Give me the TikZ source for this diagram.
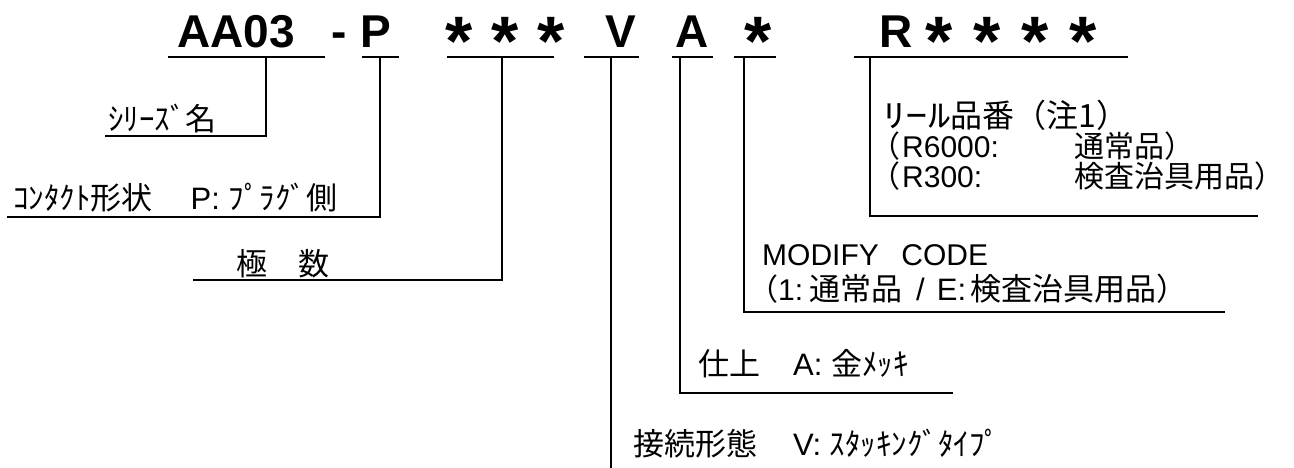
\documentclass[tikz,border=0pt]{standalone}
\usepackage{fontspec}
\setmainfont{Liberation Sans}
\newfontfamily\jpfont{Noto Sans CJK JP}
\newcommand{\jp}[1]{{\jpfont #1}}
\newcommand{\rcol}[1]{\makebox[172pt][l]{#1}}
\usetikzlibrary{positioning}

\tikzset{
  codetext/.style={inner sep=0pt, anchor=base west, font=\fontsize{46}{46}\selectfont\bfseries},
  codestar/.style={inner sep=0pt, anchor=base west, font=\fontsize{70}{70}\selectfont\bfseries},
  tagtext/.style={inner sep=0pt, anchor=base west, font=\fontsize{30}{30}\selectfont},
  tagwide/.style={tagtext, font=\fontsize{31}{31}\selectfont},
  leader/.style={line width=2pt},
}

\begin{document}
\begin{tikzpicture}[x=1pt, y=-1pt]
    \useasboundingbox[fill=white] (0,0) rectangle (1294,468);

    % part number
    \node[codetext] (c-series) at (177,48) {AA03};
    \node[codetext] (c-dash)   at (331,48) {-};
    \node[codetext] (c-plug)   at (360,48) {P};
    \node[codestar] (c-poles)  at (445,66) {*\hspace{19pt}*\hspace{19pt}*};
    \node[codetext] (c-stack)  at (605,48) {V};
    \node[codetext] (c-gold)   at (675,48) {A};
    \node[codestar] (c-modify) at (744,66) {*};
    \node[codetext] (c-reel)   at (879,48) {R};
    \node[codestar] (c-reelno) at (925,66) {*\hspace{21pt}*\hspace{21pt}*\hspace{21pt}*};

    % junctions under the code
    \coordinate (j-series) at (266,57);
    \coordinate (j-plug)   at (380,57);
    \coordinate (j-poles)  at (502,57);
    \coordinate (j-stack)  at (611,57);
    \coordinate (j-gold)   at (680,57);
    \coordinate (j-modify) at (744,57);
    \coordinate (j-reel)   at (870,57);

    % underlines
    \draw[leader] (168,57) -- (325,57);
    \draw[leader] (362,57) -- (399,57);
    \draw[leader] (447,57) -- (554,57);
    \draw[leader] (584,57) -- (639,57);
    \draw[leader] (672,57) -- (713,57);
    \draw[leader] (734,57) -- (776,57);
    \draw[leader] (854,57) -- (1128,57);

    % ends of the leaders
    \coordinate (e-series) at (105,136);
    \coordinate (e-plug)   at (7,217);
    \coordinate (e-poles)  at (193,280);
    \coordinate (e-stack)  at (611,468);
    \coordinate (e-gold)   at (953,393);
    \coordinate (e-modify) at (1225,312);
    \coordinate (e-reel)   at (1258,216);

    \draw[leader] (j-series) |- (e-series);
    \draw[leader] (j-plug)   |- (e-plug);
    \draw[leader] (j-poles)  |- (e-poles);
    \draw[leader] (j-stack)  -- (e-stack);
    \draw[leader] (j-gold)   |- (e-gold);
    \draw[leader] (j-modify) |- (e-modify);
    \draw[leader] (j-reel)   |- (e-reel);

    % descriptions
    \node[tagwide] (t-series) at (108,131) {\jp{ｼﾘｰｽﾞ名}};
    \node[tagwide] (t-plug)   at (13,210)  {\jp{ｺﾝﾀｸﾄ形状}\hspace{38pt}P: \jp{ﾌﾟﾗｸﾞ側}};
    \node[tagwide] (t-poles)  at (236,275) {\jp{極　数}};
    \node[tagtext, font=\fontsize{32}{32}\selectfont] (t-reel1) at (883,128)
        {\jp{\scalebox{1.4}[1]{ﾘｰﾙ}品番（注1）}};
    \node[tagtext] (t-reel2)  at (870,158) {\jp{（}\hspace{2pt}\rcol{R6000:}\jp{通常品）}};
    \node[tagtext] (t-reel3)  at (870,188) {\jp{（}\hspace{2pt}\rcol{R300:}\jp{検査治具用品）}};
    \node[tagtext] (t-mod1)   at (762,265) {MODIFY\hspace{0.75em}CODE};
    \node[tagtext] (t-mod2)   at (748,300)
        {\jp{（}1:\hspace{6pt}{\fontsize{31}{31}\selectfont\jp{通常品}\hspace{14pt}/\hspace{12pt}E:\hspace{4pt}\jp{検査治具用品）}}};
    \node[tagwide] (t-gold)   at (698,375) {\jp{仕上}\hspace{33pt}A: \jp{金ﾒｯｷ}};
    \node[tagwide] (t-stack)  at (633,455) {\jp{接続形態}\hspace{36pt}V: \jp{ｽﾀｯｷﾝｸﾞﾀｲﾌﾟ}};
\end{tikzpicture}
\end{document}
